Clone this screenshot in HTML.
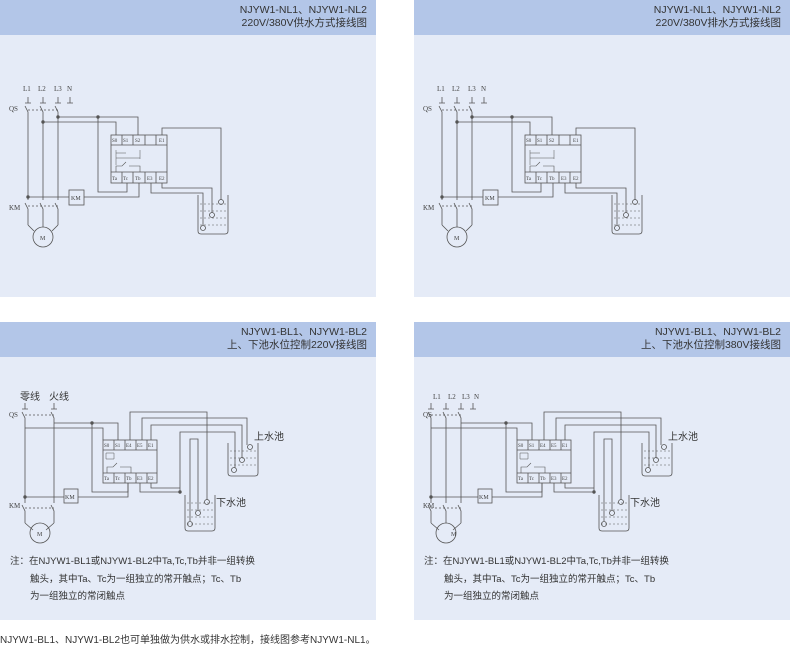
<!DOCTYPE html>
<html><head><meta charset="utf-8"><style>
body{margin:0;width:790px;height:647px;background:#fff;overflow:hidden;font-family:"Liberation Sans","Noto Sans CJK SC",sans-serif;}
.p{position:absolute;width:376px;background:#e5ebf7;}
.h{position:absolute;left:0;top:0;width:376px;height:35px;background:#b3c6e8;}
.h div{position:absolute;right:9px;font-size:10.5px;color:#333;line-height:13px;text-align:right;top:4px;}
svg{position:absolute;left:0;top:0}
.n{position:absolute;font-size:9.5px;color:#333;}
</style></head><body>
<div class="p" style="left:0;top:0;height:297px"><div class="h"><div>NJYW1-NL1、NJYW1-NL2<br>220V/380V供水方式接线图</div></div></div>
<div class="p" style="left:414px;top:0;height:297px"><div class="h"><div>NJYW1-NL1、NJYW1-NL2<br>220V/380V排水方式接线图</div></div></div>
<div class="p" style="left:0;top:322px;height:298px"><div class="h"><div>NJYW1-BL1、NJYW1-BL2<br>上、下池水位控制220V接线图</div></div></div>
<div class="p" style="left:414px;top:322px;height:298px"><div class="h"><div>NJYW1-BL1、NJYW1-BL2<br>上、下池水位控制380V接线图</div></div></div>

<svg width="790" height="647" viewBox="0 0 790 647" font-family="Liberation Serif,serif" fill="none" stroke="#555" stroke-width="0.8">
<defs>
<g id="top">
 <path d="M28,97v6M43,97v6M58,97v6M70,97v6M25,103h6M40,103h6M55,103h6M67,103h6"/>
 <path d="M25,106l3,6v88M40,106l3,6v88M55,106l3,6v88"/>
 <path d="M28,110h30" stroke-dasharray="2,2"/>
 <path d="M58,117h80v18M43,122h73v13M98,117v75h29v-9"/>
 <rect x="111" y="135" width="56" height="48"/>
 <path d="M111,145h56M111,172h56M122,135v10M133,135v10M145,135v10M156,135v10M122,172v11M133,172v11M145,172v11M156,172v11"/>
 <path d="M116,150v15M140,150v9M116,153h10M116,158h24" stroke-width="0.5"/>
 <path d="M116,172v-6h6l4,-4M129,166h11v6" stroke-width="0.6"/>
 <path d="M162,135v-7h59v72M162,183v5h50v25M151,183v10h52v32"/>
 <path d="M198,195v36q0,3 3,3h24q3,0 3,-3v-36"/>
 <path d="M200,204h26M200,211h26M200,218h26M200,225h26" stroke-dasharray="2,2" stroke-width="0.5"/>
 <circle cx="221" cy="202" r="2.5"/><circle cx="212" cy="215" r="2.5"/><circle cx="203" cy="228" r="2.5"/>
 <path d="M28,197h41M84,197h55v-14"/>
 <rect x="69" y="190" width="15" height="15"/>
 <path d="M25,203l3,6v16M40,203l3,6v16M55,203l3,6v16"/>
 <path d="M28,206h30" stroke-dasharray="2,2"/>
 <path d="M28,225l6,6M58,225l-6,6M43,225v2"/>
 <circle cx="43" cy="237" r="10"/>
 <circle cx="28" cy="197" r="1.3" fill="#555"/><circle cx="98" cy="117" r="1.3" fill="#555"/><circle cx="43" cy="122" r="1.3" fill="#555"/><circle cx="58" cy="117" r="1.3" fill="#555"/>
</g>
<g id="bot">
 <path d="M92,423h26v17M92,423v69h36v-9M130,440v-28h77v88M142,440v-22h105v27M151,440v-15h91v33M180,492v-60h55v36M140,483v9h40M151,483v5h29M190,521v-82h8v71"/>
 <rect x="103" y="440" width="54" height="43"/>
 <path d="M103,450h54M103,473h54M114,440v10M125,440v10M136,440v10M147,440v10M114,473v10M125,473v10M136,473v10M147,473v10"/>
 <path d="M106,453h8v6h-8z" stroke-width="0.5"/>
 <path d="M107,473v-6h6l4,-4M120,467h11v6" stroke-width="0.6"/>
 <path d="M185,495v33q0,3 3,3h24q3,0 3,-3v-33M228,443v30q0,3 3,3h24q3,0 3,-3v-30"/>
 <path d="M187,503h26M187,510h26M187,517h26M187,524h26M230,451h26M230,458h26M230,465h26" stroke-dasharray="2,2" stroke-width="0.5"/>
 <circle cx="207" cy="502" r="2.5"/><circle cx="198" cy="513" r="2.5"/><circle cx="190" cy="524" r="2.5"/>
 <circle cx="250" cy="447" r="2.5"/><circle cx="242" cy="460" r="2.5"/><circle cx="234" cy="470" r="2.5"/>
 <rect x="64" y="489" width="14" height="14"/>
 <path d="M78,497h50v-14"/>
 <circle cx="92" cy="423" r="1.3" fill="#555"/><circle cx="180" cy="492" r="1.3" fill="#555"/>
</g>
</defs>
<use href="#top"/><use href="#top" x="414"/>
<use href="#bot"/><use href="#bot" x="414"/>
<path d="M25,403v6M54,403v6M22,409h6M51,409h6M22,412l3,6v85M51,412l3,6v85M54,423h38M25,428h78v12M25,497h39M22,505l3,6v12M51,505l3,6v12M25,523l8,7M54,523l-8,7"/>
<path d="M25,415h29M25,508h29" stroke-dasharray="2,2"/>
<circle cx="40" cy="533" r="10"/>
<circle cx="25" cy="497" r="1.3" fill="#555"/>
<path d="M431,403v6M446,403v6M461,403v6M473,403v6M428,409h6M443,409h6M458,409h6M470,409h6M428,412l3,6v85M443,412l3,6v85M458,412l3,6v85M461,423h45M431,428h86v12M431,497h47M428,505l3,6v12M443,505l3,6v12M458,505l3,6v12M431,523l8,7M461,523l-8,7"/>
<path d="M431,415h30M431,508h30" stroke-dasharray="2,2"/>
<circle cx="446" cy="533" r="10"/>
<circle cx="431" cy="497" r="1.3" fill="#555"/>
<g fill="#444" stroke="none" font-size="7">
<text x="23" y="91">L1</text><text x="38" y="91">L2</text><text x="54" y="91">L3</text><text x="67" y="91">N</text>
<text x="9" y="111">QS</text><text x="9" y="210">KM</text><text x="40" y="240" font-size="6">M</text>
<text x="71" y="200" font-size="6">KM</text>
<text x="437" y="91">L1</text><text x="452" y="91">L2</text><text x="468" y="91">L3</text><text x="481" y="91">N</text>
<text x="423" y="111">QS</text><text x="423" y="210">KM</text><text x="454" y="240" font-size="6">M</text>
<text x="485" y="200" font-size="6">KM</text>
<text x="9" y="417">QS</text><text x="9" y="508">KM</text><text x="37" y="536" font-size="6">M</text><text x="65" y="499" font-size="6">KM</text>
<text x="433" y="399">L1</text><text x="448" y="399">L2</text><text x="462" y="399">L3</text><text x="474" y="399">N</text>
<text x="423" y="417">QS</text><text x="423" y="508">KM</text><text x="451" y="536" font-size="6">M</text><text x="479" y="499" font-size="6">KM</text>
</g>
<g fill="#444" stroke="none" font-size="5">
<text x="112" y="142">S0</text><text x="123" y="142">S1</text><text x="135" y="142">S2</text><text x="159" y="142">E1</text>
<text x="112" y="180">Ta</text><text x="123" y="180">Tc</text><text x="135" y="180">Tb</text><text x="147" y="180">E3</text><text x="159" y="180">E2</text>
<text x="526" y="142">S0</text><text x="537" y="142">S1</text><text x="549" y="142">S2</text><text x="573" y="142">E1</text>
<text x="526" y="180">Ta</text><text x="537" y="180">Tc</text><text x="549" y="180">Tb</text><text x="561" y="180">E3</text><text x="573" y="180">E2</text>
<text x="104" y="447">S0</text><text x="115" y="447">S1</text><text x="126" y="447">E4</text><text x="137" y="447">E5</text><text x="148" y="447">E1</text>
<text x="104" y="480">Ta</text><text x="115" y="480">Tc</text><text x="126" y="480">Tb</text><text x="137" y="480">E3</text><text x="148" y="480">E2</text>
<text x="518" y="447">S0</text><text x="529" y="447">S1</text><text x="540" y="447">E4</text><text x="551" y="447">E5</text><text x="562" y="447">E1</text>
<text x="518" y="480">Ta</text><text x="529" y="480">Tc</text><text x="540" y="480">Tb</text><text x="551" y="480">E3</text><text x="562" y="480">E2</text>
</g>
<g fill="#333" stroke="none" font-family="Liberation Sans,Noto Sans CJK SC,sans-serif" font-size="10">
<text x="20" y="400">零线</text><text x="49" y="400">火线</text>
<text x="254" y="440">上水池</text><text x="216" y="506">下水池</text>
<text x="668" y="440">上水池</text><text x="630" y="506">下水池</text>
</g>
</svg>
<div class="n" style="left:10px;top:553px">注：在NJYW1-BL1或NJYW1-BL2中Ta,Tc,Tb并非一组转换</div>
<div class="n" style="left:30px;top:571px">触头，其中Ta、Tc为一组独立的常开触点；Tc、Tb</div>
<div class="n" style="left:30px;top:588px">为一组独立的常闭触点</div>
<div class="n" style="left:424px;top:553px">注：在NJYW1-BL1或NJYW1-BL2中Ta,Tc,Tb并非一组转换</div>
<div class="n" style="left:444px;top:571px">触头，其中Ta、Tc为一组独立的常开触点；Tc、Tb</div>
<div class="n" style="left:444px;top:588px">为一组独立的常闭触点</div>
<div class="n" style="left:0;top:631px;font-size:10px">NJYW1-BL1、NJYW1-BL2也可单独做为供水或排水控制，接线图参考NJYW1-NL1。</div>
</body></html>
